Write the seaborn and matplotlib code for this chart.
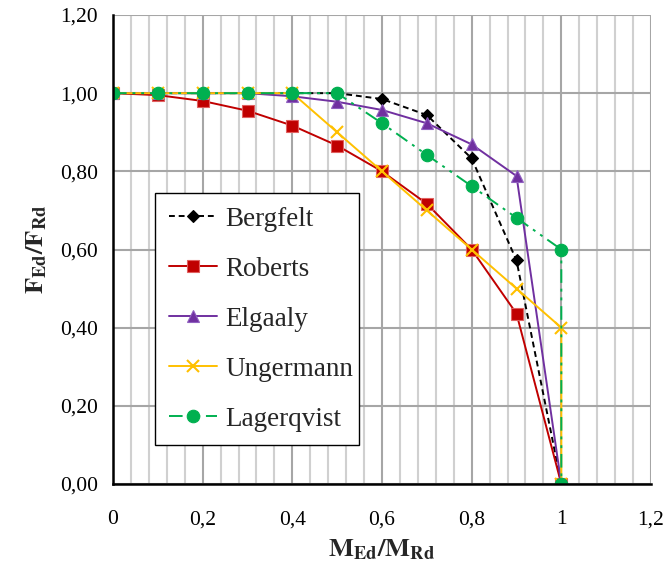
import matplotlib
matplotlib.use("Agg")
import matplotlib.pyplot as plt
from matplotlib.ticker import MultipleLocator, FixedLocator
import seaborn as sns
import pandas as pd

x_std = [0.0, 0.1, 0.2, 0.3, 0.4, 0.5, 0.6, 0.7, 0.8, 0.9, 1.0]
x_ext = [0.0, 0.1, 0.2, 0.3, 0.4, 0.5, 0.6, 0.7, 0.8, 0.9, 1.0, 1.0]

bergfelt = [1.00, 1.00, 1.00, 1.00, 1.00, 1.00, 0.985, 0.944, 0.833, 0.572, 0.0]
roberts = [1.00, 0.995, 0.980, 0.955, 0.917, 0.866, 0.800, 0.717, 0.600, 0.436, 0.0]
elgaaly = [1.00, 1.00, 1.00, 1.00, 0.992, 0.978, 0.957, 0.923, 0.869, 0.788, 0.0]
ungermann = [1.00, 1.00, 1.00, 1.00, 1.00, 0.900, 0.800, 0.700, 0.600, 0.500, 0.400, 0.0]
lagerqvist = [1.00, 1.00, 1.00, 1.00, 1.00, 1.00, 0.923, 0.842, 0.762, 0.681, 0.600, 0.0]

series_names = ["Bergfelt", "Roberts", "Elgaaly", "Ungermann", "Lagerqvist"]

x_ticks = [0.0, 0.2, 0.4, 0.6, 0.8, 1.0, 1.2]
x_tick_labels = ["0", "0,2", "0,4", "0,6", "0,8", "1", "1,2"]
y_ticks = [0.0, 0.2, 0.4, 0.6, 0.8, 1.0, 1.2]
y_tick_labels = ["0,00", "0,20", "0,40", "0,60", "0,80", "1,00", "1,20"]

sns.set_style("white")
plt.rcParams["font.family"] = ["Liberation Serif", "DejaVu Serif"]
plt.rcParams["mathtext.fontset"] = "stix"

fig = plt.figure(figsize=(6.67, 5.74), dpi=100)
ax = fig.add_axes([113 / 667, 1 - 484 / 574, 538 / 667, 469 / 574])

styles = {
    "Bergfelt": dict(x=x_std, y=bergfelt, color="black", marker="D", ms=6.5, ls=(0, (3, 2)), mec="black"),
    "Roberts": dict(x=x_std, y=roberts, color="#C00000", marker="s", ms=8, ls="-", mec="#E06060"),
    "Elgaaly": dict(x=x_std, y=elgaaly, color="#7030A0", marker="^", ms=9, ls="-", mec="#9060C0"),
    "Ungermann": dict(x=x_ext, y=ungermann, color="#FFC000", marker="x", ms=9, ls="-", mec="#FFC000"),
    "Lagerqvist": dict(x=x_ext, y=lagerqvist, color="#00B050", marker="o", ms=9, ls=(0, (7, 3, 1.5, 3, 1.5, 3)), mec="#00B050"),
}

for name in series_names:
    s = styles[name]
    df = pd.DataFrame({"x": s["x"], "y": s["y"]})
    sns.lineplot(data=df, x="x", y="y", ax=ax, estimator=None, sort=False,
                 color=s["color"], marker=s["marker"], markersize=s["ms"],
                 markeredgecolor=s["mec"], markeredgewidth=1.5 if name == "Ungermann" else 0.8,
                 linestyle=s["ls"], linewidth=1.4, label=name, zorder=3)

ax.set_xlim(0, 1.2)
ax.set_ylim(0, 1.2)
ax.xaxis.set_major_locator(FixedLocator(x_ticks))
ax.set_xticklabels(x_tick_labels)
ax.yaxis.set_major_locator(FixedLocator(y_ticks))
ax.set_yticklabels(y_tick_labels)
ax.xaxis.set_minor_locator(MultipleLocator(0.04))

ax.grid(False)
ax.grid(True, which="major", axis="both", color="#A6A6A6", linewidth=1.5, zorder=0)
ax.grid(True, which="minor", axis="x", color="#D0D0D0", linewidth=1.5, zorder=0)
ax.set_axisbelow(True)

for side in ["top", "right"]:
    ax.spines[side].set_visible(False)
for side in ["left", "bottom"]:
    ax.spines[side].set_color("black")
    ax.spines[side].set_linewidth(1.8)
    ax.spines[side].set_zorder(5)

ax.tick_params(axis="both", which="major", direction="out", length=5, width=1.2,
               colors="black", labelsize=15.5, pad=6)
ax.tick_params(axis="x", which="minor", length=0)
ax.tick_params(axis="x", which="major", pad=14)

ax.set_xlabel(r"$\mathbf{M_{Ed}/M_{Rd}}$", fontsize=19, labelpad=6)
ax.set_ylabel(r"$\mathbf{F_{Ed}/F_{Rd}}$", fontsize=19, labelpad=8)

leg = ax.legend(loc="lower left", bbox_to_anchor=(0.078, 0.083, 0.379, 0.533),
                mode="expand", fontsize=19.5, frameon=True, fancybox=False,
                edgecolor="black", framealpha=1, handlelength=1.8, handletextpad=0.3,
                labelspacing=0.92, borderpad=0.5, borderaxespad=0)
leg.get_frame().set_linewidth(1.0)
leg.set_zorder(10)

fig.savefig("out.png", dpi=100)
